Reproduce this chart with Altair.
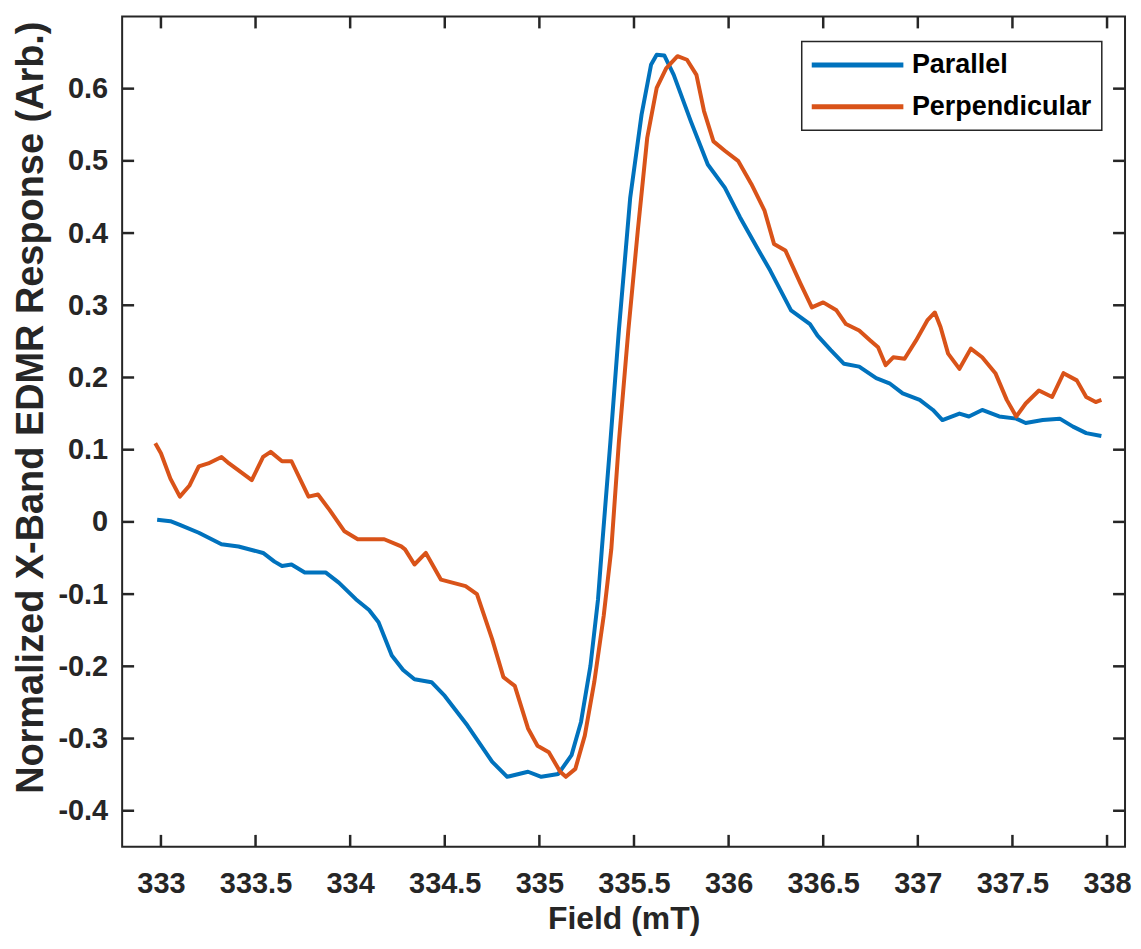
import altair as alt
import pandas as pd

# ---------------- data ----------------
par_x = [332.98, 333.05, 333.10, 333.20, 333.32, 333.41, 333.54, 333.60, 333.64, 333.69,
         333.76, 333.87, 333.94, 334.03, 334.10, 334.15, 334.22, 334.28, 334.34, 334.43,
         334.50, 334.62, 334.75, 334.83, 334.94, 335.01, 335.10, 335.17, 335.22, 335.27,
         335.31, 335.33, 335.375, 335.42, 335.48, 335.54, 335.59, 335.62, 335.66, 335.71,
         335.80, 335.89, 335.98, 336.06, 336.15, 336.22, 336.33, 336.43, 336.47, 336.54,
         336.61, 336.69, 336.78, 336.85, 336.92, 337.01, 337.08, 337.13, 337.22, 337.27,
         337.34, 337.43, 337.52, 337.57, 337.66, 337.75, 337.82, 337.89, 337.97]
par_y = [0.003, 0.001, -0.004, -0.015, -0.031, -0.034, -0.043, -0.055, -0.061, -0.059,
         -0.070, -0.070, -0.084, -0.107, -0.122, -0.139, -0.185, -0.205, -0.218, -0.222,
         -0.241, -0.282, -0.332, -0.353, -0.346, -0.353, -0.349, -0.323, -0.277, -0.199,
         -0.107, -0.038, 0.110, 0.265, 0.449, 0.564, 0.633, 0.647, 0.646, 0.619,
         0.555, 0.495, 0.463, 0.422, 0.380, 0.348, 0.293, 0.274, 0.258, 0.238,
         0.219, 0.215, 0.199, 0.192, 0.178, 0.169, 0.155, 0.141, 0.150, 0.146,
         0.155, 0.146, 0.143, 0.137, 0.141, 0.143, 0.132, 0.123, 0.119]

perp_x = [332.97, 333.00, 333.05, 333.10, 333.15, 333.20, 333.25, 333.32, 333.36, 333.48,
          333.54, 333.58, 333.64, 333.69, 333.78, 333.83, 333.89, 333.97, 334.04, 334.18,
          334.27, 334.29, 334.34, 334.40, 334.48, 334.61, 334.67, 334.75, 334.81, 334.87,
          334.94, 334.99, 335.05, 335.11, 335.14, 335.19, 335.24, 335.29, 335.34, 335.38,
          335.42, 335.47, 335.52, 335.57, 335.62, 335.67, 335.73, 335.78, 335.83, 335.87,
          335.92, 335.98, 336.05, 336.12, 336.19, 336.24, 336.30, 336.38, 336.44, 336.50,
          336.57, 336.62, 336.69, 336.75, 336.79, 336.83, 336.87, 336.93, 336.99, 337.05,
          337.09, 337.12, 337.16, 337.22, 337.28, 337.34, 337.41, 337.47, 337.52, 337.57,
          337.64, 337.71, 337.77, 337.84, 337.89, 337.94, 337.97]
perp_y = [0.109, 0.095, 0.060, 0.035, 0.050, 0.077, 0.081, 0.090, 0.081, 0.058,
          0.090, 0.097, 0.084, 0.084, 0.035, 0.038, 0.017, -0.013, -0.024, -0.024,
          -0.034, -0.038, -0.059, -0.043, -0.080, -0.089, -0.100, -0.162, -0.215, -0.227,
          -0.286, -0.310, -0.319, -0.346, -0.353, -0.342, -0.296, -0.222, -0.130, -0.038,
          0.110, 0.265, 0.403, 0.532, 0.601, 0.628, 0.645, 0.640, 0.619, 0.569,
          0.527, 0.514, 0.500, 0.468, 0.431, 0.385, 0.376, 0.330, 0.297, 0.304,
          0.293, 0.274, 0.265, 0.251, 0.242, 0.217, 0.228, 0.226, 0.251, 0.279,
          0.290, 0.270, 0.233, 0.212, 0.240, 0.228, 0.206, 0.169, 0.146, 0.164,
          0.182, 0.173, 0.206, 0.196, 0.173, 0.166, 0.169]

series_names = ["Parallel", "Perpendicular"]
series_colors = ["#0072BD", "#D95319"]
x_ticks = [333, 333.5, 334, 334.5, 335, 335.5, 336, 336.5, 337, 337.5, 338]
y_ticks = [-0.4, -0.3, -0.2, -0.1, 0, 0.1, 0.2, 0.3, 0.4, 0.5, 0.6]
x_domain = [332.795, 338.095]
y_domain = [-0.45, 0.70]
x_title = "Field (mT)"
y_title = "Normalized X-Band EDMR Response (Arb.)"

# ---------------- layout ----------------
W, H = 1006, 833
TICK = 12
FONT = "Liberation Sans"
AX = "#262626"

df_par = pd.DataFrame({"field": par_x, "resp": par_y, "series": series_names[0]})
df_perp = pd.DataFrame({"field": perp_x, "resp": perp_y, "series": series_names[1]})

# inward tick marks (MATLAB box style) as short segments on all four sides;
# the TICK-pixel length is converted into data units of each scale
dx = TICK * (x_domain[1] - x_domain[0]) / W
dy = TICK * (y_domain[1] - y_domain[0]) / H
seg = []
for v in x_ticks:
    seg.append({"field": v, "field2": v, "resp": y_domain[0], "resp2": y_domain[0] + dy})
    seg.append({"field": v, "field2": v, "resp": y_domain[1], "resp2": y_domain[1] - dy})
for v in y_ticks:
    seg.append({"field": x_domain[0], "field2": x_domain[0] + dx, "resp": v, "resp2": v})
    seg.append({"field": x_domain[1], "field2": x_domain[1] - dx, "resp": v, "resp2": v})
df_seg = pd.DataFrame(seg)

xs = alt.Scale(domain=x_domain, nice=False, zero=False)
ys = alt.Scale(domain=y_domain, nice=False, zero=False)

x_axis = alt.Axis(values=x_ticks, labelExpr="'' + datum.value", labelPadding=23,
                  labelFontSize=29, titleFontSize=32, titleBaseline="alphabetic",
                  titleY=82, labelOverlap=False, labelFlush=False)
y_axis = alt.Axis(values=y_ticks, labelExpr="'' + datum.value", labelPadding=14.5,
                  labelFontSize=29, titleFontSize=38, titleBaseline="middle",
                  titleX=-91, titleY=392, labelOverlap=False, labelFlush=False)

X = alt.X("field:Q", scale=xs, axis=x_axis, title=x_title)
Y = alt.Y("resp:Q", scale=ys, axis=y_axis, title=y_title)

color = alt.Color(
    "series:N",
    scale=alt.Scale(domain=series_names, range=series_colors),
    legend=alt.Legend(
        title=None, orient="none", legendX=681.7, legendY=25.2,
        symbolType="M-8,0H8", symbolSize=132, symbolStrokeWidth=5,
        symbolOffset=32.5, labelOffset=41, rowPadding=14, padding=10,
        labelFont=FONT, labelFontSize=27, labelFontWeight="bold", labelColor="#000000",
        labelLimit=400, strokeColor=AX, fillColor="white",
    ),
)

ticks = alt.Chart(df_seg).mark_rule(color=AX, strokeWidth=2.5, opacity=1).encode(
    x=X, x2="field2:Q", y=Y, y2="resp2:Q"
)
line_par = alt.Chart(df_par).mark_line(strokeWidth=4, strokeJoin="round").encode(x=X, y=Y, color=color)
line_perp = alt.Chart(df_perp).mark_line(strokeWidth=4, strokeJoin="round").encode(x=X, y=Y, color=color)

chart = (
    alt.layer(ticks, line_par, line_perp)
    .properties(
        width=W, height=H,
        autosize=alt.AutoSizeParams(type="none"),
        padding={"left": 114.5, "top": 7, "right": 8, "bottom": 100},
        background="white",
    )
    .configure_view(stroke=AX, strokeWidth=2)
    .configure_legend(strokeWidth=1.5)
    .configure_axis(
        grid=False, ticks=False, domain=False,
        labelFont=FONT, labelFontWeight="bold", labelColor=AX,
        titleFont=FONT, titleFontWeight="bold", titleColor=AX,
    )
)

chart.save("out.html", embed_options={"renderer": "svg", "actions": False})
